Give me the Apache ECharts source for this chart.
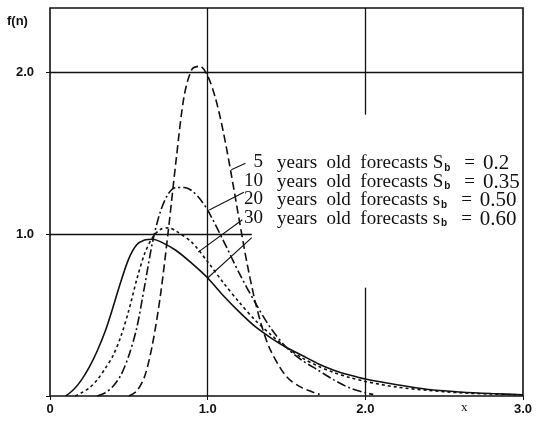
<!DOCTYPE html>
<html>
<head>
<meta charset="utf-8">
<script src="https://cdn.jsdelivr.net/npm/echarts/dist/echarts.min.js"></script>
<style>
html, body { margin: 0; padding: 0; background: #fff; }
#chart { width: 541px; height: 421px; }
</style>
</head>
<body>
<div id="chart"></div>
<script>
// Density curves f(n) of the forecast ratio for forecasts of different ages
const x5 = [0.50, 0.55, 0.60, 0.65, 0.70, 0.75, 0.80, 0.85, 0.90, 0.95, 1.00, 1.05, 1.10, 1.15, 1.20, 1.25, 1.30, 1.35, 1.40, 1.50, 1.60, 1.71];
const y5 = [0.00, 0.03, 0.12, 0.32, 0.62, 1.02, 1.46, 1.85, 2.02, 2.04, 1.98, 1.84, 1.63, 1.37, 1.09, 0.82, 0.59, 0.41, 0.28, 0.12, 0.05, 0.01];

const x10 = [0.30, 0.35, 0.40, 0.45, 0.50, 0.55, 0.60, 0.65, 0.70, 0.75, 0.80, 0.85, 0.90, 0.95, 1.00, 1.10, 1.20, 1.30, 1.40, 1.50, 1.60, 1.70, 1.80, 1.90, 2.00, 2.05];
const y10 = [0.00, 0.02, 0.06, 0.13, 0.25, 0.42, 0.68, 0.95, 1.14, 1.25, 1.29, 1.29, 1.27, 1.22, 1.15, 0.96, 0.76, 0.58, 0.42, 0.30, 0.22, 0.16, 0.10, 0.05, 0.02, 0.01];

const x20 = [0.16, 0.20, 0.25, 0.30, 0.35, 0.40, 0.45, 0.50, 0.55, 0.60, 0.65, 0.70, 0.75, 0.80, 0.90, 1.00, 1.10, 1.20, 1.30, 1.40, 1.50, 1.60, 1.70, 1.80, 1.90, 2.00, 2.20, 2.40, 2.60, 2.80, 3.00];
const y20 = [0.00, 0.02, 0.05, 0.10, 0.17, 0.25, 0.37, 0.53, 0.72, 0.88, 0.98, 1.03, 1.04, 1.02, 0.95, 0.83, 0.70, 0.58, 0.47, 0.38, 0.30, 0.235, 0.185, 0.145, 0.115, 0.09, 0.055, 0.035, 0.02, 0.012, 0.007];

const x30 = [0.10, 0.15, 0.20, 0.25, 0.30, 0.35, 0.40, 0.45, 0.50, 0.55, 0.60, 0.65, 0.70, 0.80, 0.90, 1.00, 1.10, 1.20, 1.30, 1.40, 1.50, 1.60, 1.70, 1.80, 1.90, 2.00, 2.20, 2.40, 2.60, 2.80, 3.00];
const y30 = [0.00, 0.04, 0.10, 0.18, 0.28, 0.40, 0.55, 0.71, 0.85, 0.935, 0.965, 0.97, 0.955, 0.90, 0.82, 0.73, 0.62, 0.52, 0.43, 0.36, 0.30, 0.25, 0.20, 0.16, 0.13, 0.105, 0.07, 0.04, 0.025, 0.015, 0.008];

// Axis ticks
const xTickValues = [0, 1, 2, 3];
const xTickLabels = ['0', '1.0', '2.0', '3.0'];
const yTickValues = [1, 2];
const yTickLabels = ['1.0', '2.0'];

// Legend text lines
const ageLabels = ['5', '10', '20', '30'];
const sLetters = ['S', 'S', 's', 's'];
const sbValues = ['0.2', '0.35', '0.50', '0.60'];

// Grid lines (partly hidden behind the legend block) and legend leader lines, in data units
const gridSegments = [
  [[1, 0], [1, 2.4]],
  [[2, 0], [2, 0.67]],
  [[2, 1.74], [2, 2.4]],
  [[0, 2], [3, 2]],
  [[0, 1], [1.28, 1]]
];
const leaderSegments = [
  [[1.15, 1.40], [1.24, 1.44]],
  [[1.01, 1.15], [1.23, 1.26]],
  [[0.94, 0.89], [1.22, 1.09]],
  [[1.00, 0.73], [1.28, 0.98]]
];

const pairs = (xs, ys) => xs.map((x, i) => [x, ys[i]]);
const ink = '#111';

function curve(xs, ys, dash) {
  return {
    type: 'line',
    data: pairs(xs, ys),
    showSymbol: false,
    smooth: 0.3,
    silent: true,
    lineStyle: { color: ink, width: 1.6, type: dash }
  };
}

const segs = list => list.map(s => [{ coord: s[0] }, { coord: s[1] }]);

const series = [
  curve(x30, y30, 'solid'),
  curve(x20, y20, [3, 3]),
  curve(x10, y10, [9, 3, 2, 3]),
  curve(x5, y5, [8, 4])
];
series[0].markLine = {
  silent: true, symbol: ['none', 'none'], label: { show: false },
  lineStyle: { color: ink, width: 1.3, type: 'solid' },
  data: segs(gridSegments)
};
series[1].markLine = {
  silent: true, symbol: ['none', 'none'], label: { show: false },
  lineStyle: { color: ink, width: 1.1, type: 'solid' },
  data: segs(leaderSegments)
};

// Legend block
const serif = '"Liberation Serif"';
const legendGraphics = [];
ageLabels.forEach((age, i) => {
  const top = 153 + i * 18.5;
  legendGraphics.push({
    type: 'text', right: 541 - 263, top: top,
    style: { text: age, font: '19px ' + serif, fill: ink, textAlign: 'right' }
  });
  legendGraphics.push({
    type: 'text', left: 277, top: top,
    style: {
      text: 'years  old  forecasts ' + sLetters[i] + '{b|b}{eq|=}{v|' + sbValues[i] + '}',
      font: '19px ' + serif, fill: ink,
      rich: {
        b: { font: 'bold 10px "Liberation Sans"', fill: ink, padding: [9, 1, 0, 1] },
        eq: { font: '19px ' + serif, fill: ink, padding: [0, 8, 0, 13] },
        v: { font: '21px ' + serif, fill: ink }
      }
    }
  });
});

const chart = echarts.init(document.getElementById('chart'), null, { renderer: 'canvas' });
chart.setOption({
  animation: false,
  backgroundColor: '#fff',
  grid: { left: 50, right: 18, top: 8, bottom: 25, show: true, borderColor: ink, borderWidth: 1.6 },
  xAxis: {
    type: 'value', min: 0, max: 3, interval: 1,
    axisLine: { show: false },
    axisTick: { show: true, length: 4, lineStyle: { color: ink } },
    splitLine: { show: false },
    axisLabel: {
      margin: 7, color: ink, fontSize: 13, fontWeight: 'bold', fontFamily: '"Liberation Sans"',
      formatter: v => { const k = xTickValues.indexOf(v); return k >= 0 ? xTickLabels[k] : ''; }
    }
  },
  yAxis: {
    type: 'value', min: 0, max: 2.4, interval: 1,
    axisLine: { show: false },
    axisTick: { show: true, length: 4, lineStyle: { color: ink } },
    splitLine: { show: false },
    axisLabel: {
      margin: 16, color: ink, fontSize: 13, fontWeight: 'bold', fontFamily: '"Liberation Sans"',
      showMaxLabel: false,
      formatter: v => { const k = yTickValues.indexOf(v); return k >= 0 ? yTickLabels[k] : ''; }
    }
  },
  graphic: [
    { type: 'text', left: 7, top: 15, style: { text: 'f(n)', font: 'bold 13px "Liberation Sans"', fill: ink } },
    { type: 'text', left: 461, top: 401, style: { text: 'x', font: '13px ' + serif, fill: ink } }
  ].concat(legendGraphics),
  series: series
});
</script>
</body>
</html>
